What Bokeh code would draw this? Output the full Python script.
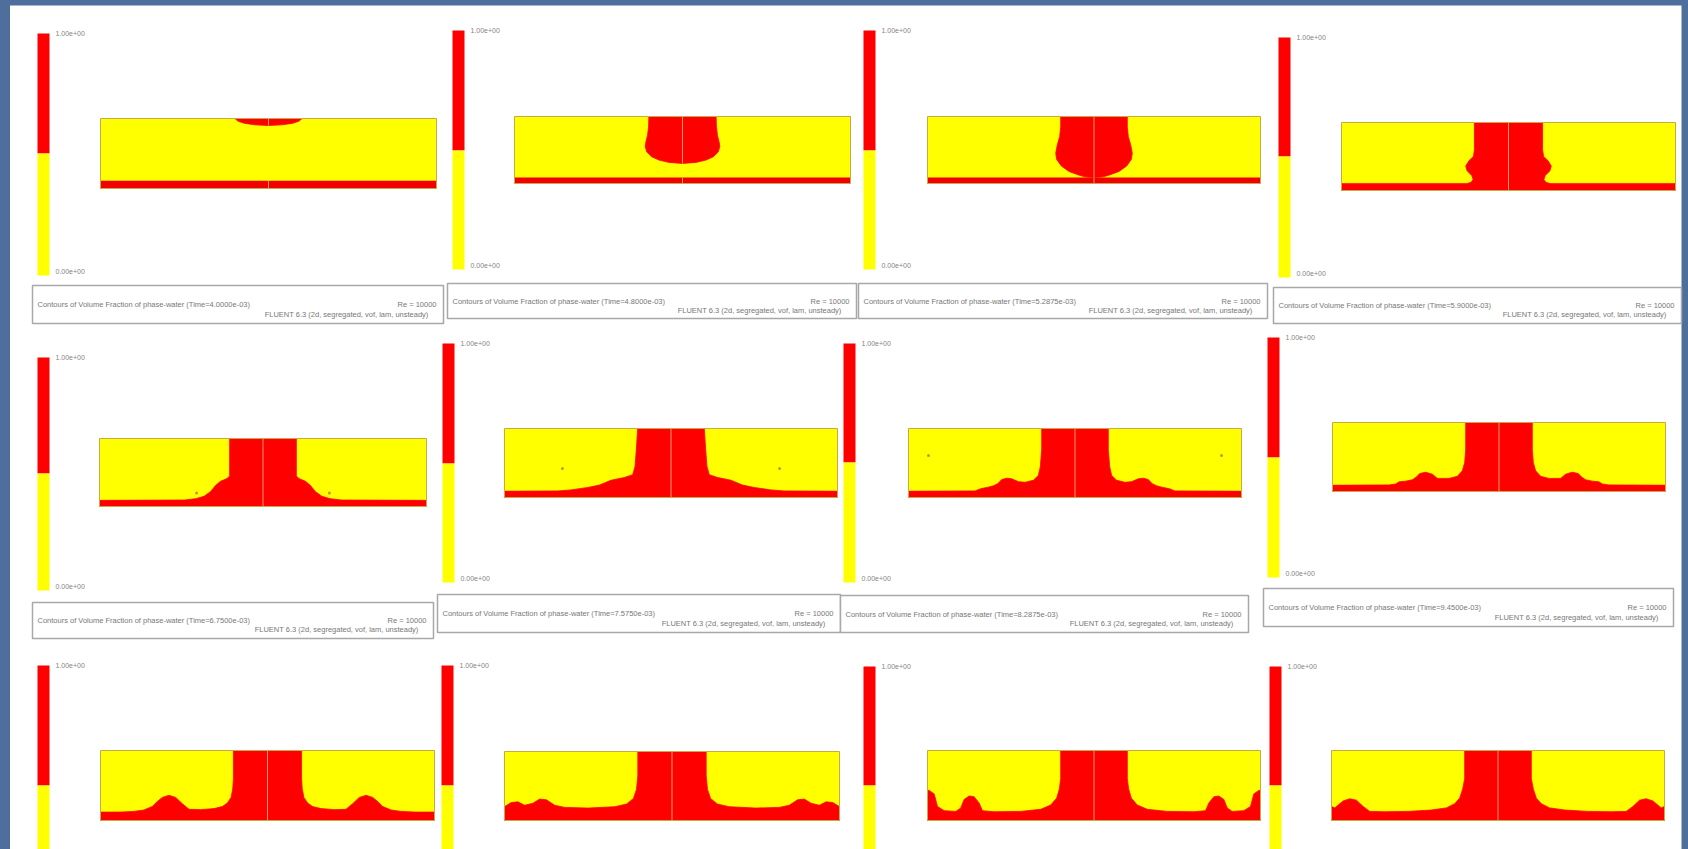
from bokeh.plotting import figure
from bokeh.models import Range1d
from bokeh.core.properties import value
from bokeh.embed import file_html
from bokeh.resources import INLINE

# ---------------------------------------------------------------- data
cbar_max_label = "1.00e+00"
cbar_min_label = "0.00e+00"
caption_title = "Contours of Volume Fraction of phase-water"
caption_right = "Re = 10000"
caption_solver = "FLUENT 6.3 (2d, segregated, vof, lam, unsteady)"
flow_times = ["4.0000e-03", "4.8000e-03", "5.2875e-03", "5.9000e-03",
              "6.7500e-03", "7.5750e-03", "8.2875e-03", "9.4500e-03"]

# thickness of the water film on the floor (fraction of domain height)
film_v = [0.11, 0.09, 0.09, 0.10, 0.09, 0.09, 0.09, 0.09, 0.11, 0.11, 0.11, 0.11]

# water/air interface, right half (distance from symmetry axis / domain width,
# height / domain height); mirrored about the axis
p1_du = [0, 0.10, 0.09, 0.07, 0.04, 0]
p1_v = [1, 1, 0.96, 0.93, 0.91, 0.90]
p2_du = [0, 0.100, 0.101, 0.104, 0.109, 0.111, 0.106, 0.092, 0.070, 0.040, 0]
p2_v = [1, 1, 0.85, 0.72, 0.62, 0.55, 0.47, 0.40, 0.35, 0.315, 0.30]
p3_du = [0, 0.100, 0.100, 0.103, 0.110, 0.115, 0.112, 0.098, 0.075, 0.048, 0.028, 0]
p3_v = [1, 1, 0.85, 0.70, 0.58, 0.45, 0.36, 0.26, 0.18, 0.13, 0.10, 0.09]
p4_du = [0, 0.102, 0.102, 0.105, 0.118, 0.128, 0.124, 0.110, 0.106, 0.112, 0.125, 0.5]
p4_v = [1, 1, 0.60, 0.50, 0.44, 0.36, 0.29, 0.22, 0.16, 0.12, 0.10, 0.10]
p5_du = [0, 0.102, 0.102, 0.110, 0.130, 0.145, 0.160, 0.180, 0.205, 0.240, 0.5]
p5_v = [1, 1, 0.45, 0.41, 0.37, 0.31, 0.22, 0.15, 0.115, 0.095, 0.09]
p6_du = [0, 0.100, 0.104, 0.108, 0.115, 0.140, 0.180, 0.200, 0.215, 0.250, 0.300, 0.340, 0.5]
p6_v = [1, 1, 0.70, 0.45, 0.33, 0.29, 0.25, 0.21, 0.18, 0.145, 0.11, 0.095, 0.09]
p7_du = [0, 0.100, 0.100, 0.104, 0.110, 0.125, 0.150, 0.170, 0.190, 0.205, 0.220,
         0.232, 0.245, 0.260, 0.270, 0.285, 0.300, 0.5]
p7_v = [1, 1, 0.70, 0.45, 0.32, 0.25, 0.22, 0.23, 0.27, 0.28, 0.26,
        0.20, 0.17, 0.15, 0.14, 0.125, 0.095, 0.09]
p8_du = [0, 0.100, 0.100, 0.103, 0.110, 0.125, 0.150, 0.185, 0.200, 0.220, 0.238,
         0.248, 0.260, 0.280, 0.300, 0.310, 0.330, 0.5]
p8_v = [1, 1, 0.60, 0.42, 0.30, 0.22, 0.19, 0.19, 0.25, 0.28, 0.26,
        0.21, 0.17, 0.15, 0.14, 0.11, 0.095, 0.09]
p9_du = [0, 0.102, 0.102, 0.104, 0.109, 0.120, 0.135, 0.160, 0.200, 0.235, 0.255,
         0.275, 0.295, 0.315, 0.330, 0.345, 0.370, 0.400, 0.440, 0.5]
p9_v = [1, 1, 0.60, 0.45, 0.33, 0.25, 0.20, 0.17, 0.155, 0.16, 0.24,
        0.33, 0.36, 0.33, 0.27, 0.20, 0.15, 0.13, 0.12, 0.12]
p10_du = [0, 0.102, 0.102, 0.106, 0.115, 0.135, 0.170, 0.250, 0.320, 0.350, 0.375,
          0.395, 0.415, 0.440, 0.460, 0.480, 0.5]
p10_v = [1, 1, 0.65, 0.45, 0.32, 0.24, 0.20, 0.18, 0.19, 0.22, 0.30,
         0.31, 0.25, 0.22, 0.27, 0.26, 0.20]
p11_du = [0, 0.100, 0.100, 0.104, 0.112, 0.130, 0.160, 0.220, 0.300, 0.335, 0.345,
          0.360, 0.375, 0.390, 0.400, 0.415, 0.450, 0.470, 0.480, 0.495, 0.5]
p11_v = [1, 1, 0.60, 0.45, 0.32, 0.22, 0.16, 0.13, 0.125, 0.14, 0.25,
         0.34, 0.35, 0.30, 0.18, 0.13, 0.14, 0.20, 0.38, 0.43, 0.43]
p12_du = [0, 0.100, 0.100, 0.106, 0.115, 0.130, 0.155, 0.200, 0.270, 0.340, 0.385,
          0.405, 0.425, 0.445, 0.465, 0.480, 0.490, 0.5]
p12_v = [1, 1, 0.60, 0.45, 0.32, 0.24, 0.18, 0.15, 0.13, 0.125, 0.13,
         0.20, 0.29, 0.31, 0.28, 0.22, 0.18, 0.20]

# small detached droplets (panel index, distance from axis, height)
drop_panel = [4, 5, 6]
drop_du = [0.203, 0.326, 0.44]
drop_v = [0.20, 0.42, 0.61]

# ---------------------------------------------------------------- layout (slide pixels)
PAGE_W, PAGE_H = 1688, 849
slide_left, slide_right, slide_top = 9.5, 1681, 5
dom_x0 = [100, 514, 927, 1341, 99, 504, 908, 1332, 100, 504, 927, 1331]
dom_x1 = [436, 850, 1260, 1675, 426, 837, 1241, 1665, 434, 839, 1260, 1664]
dom_top = [118, 116, 116, 122, 438, 428, 428, 422, 750, 751, 750, 750]
dom_bot = [188, 183, 183, 190, 506, 497, 497, 491, 820, 820, 820, 820]
cb_x0 = [37, 452, 863, 1278, 37, 442, 843, 1267, 37, 441, 863, 1269]
cb_w = 12
cb_top = [33, 30, 30, 37, 357, 343, 343, 337, 665, 665, 666, 666]
cb_mid = [153, 150, 150, 156, 473, 463, 462, 457, 785, 785, 785, 785]
cb_bot = [275, 269, 269, 277, 590, 582, 582, 577, 905, 905, 905, 905]
cap_x0 = [32, 447, 858, 1273, 32, 437, 840, 1263]
cap_x1 = [443, 856, 1267, 1681, 433, 840, 1248, 1673]
cap_y0 = [285, 283, 283, 287, 602, 594, 595, 588]
cap_y1 = [323, 318, 318, 323, 638, 632, 632, 626]

RED = "#ff0000"
YEL = "#ffff00"
BLUE = "#4e6f9b"
FONT = value("Liberation Sans")

profiles = [(p1_du, p1_v), (p2_du, p2_v), (p3_du, p3_v), (p4_du, p4_v),
            (p5_du, p5_v), (p6_du, p6_v), (p7_du, p7_v), (p8_du, p8_v),
            (p9_du, p9_v), (p10_du, p10_v), (p11_du, p11_v), (p12_du, p12_v)]

p = figure(width=PAGE_W, height=PAGE_H, x_range=Range1d(0, PAGE_W), y_range=Range1d(PAGE_H, 0),
           x_axis_type=None, y_axis_type=None, output_backend="svg",
           toolbar_location=None, min_border=0)
p.grid.visible = False
p.outline_line_color = None
p.background_fill_color = BLUE
p.border_fill_color = BLUE

# white slide area
p.quad(left=[slide_left], right=[slide_right], top=[slide_top], bottom=[PAGE_H + 10],
       fill_color="white", line_color=None)

# caption boxes
p.quad(left=cap_x0, right=cap_x1, top=cap_y0, bottom=cap_y1,
       fill_color="white", line_color="#a8a8a8", line_width=1.5)

# colour bars
p.quad(left=cb_x0, right=[x + cb_w for x in cb_x0], top=cb_top, bottom=cb_mid,
       fill_color=RED, line_color=None)
p.quad(left=cb_x0, right=[x + cb_w for x in cb_x0], top=cb_mid, bottom=cb_bot,
       fill_color=YEL, line_color=None)

lab_x, lab_y, lab_t = [], [], []
for x, t, b in zip(cb_x0, cb_top, cb_bot):
    lab_x.append(x + cb_w + 6); lab_y.append(t); lab_t.append(cbar_max_label)
    if b < PAGE_H:
        lab_x.append(x + cb_w + 6); lab_y.append(b - 4); lab_t.append(cbar_min_label)
p.text(x=lab_x, y=lab_y, text=lab_t, text_font=FONT, text_font_size="7px",
       text_color="#858585", text_baseline="middle", text_align="left")

# domains (air)
p.quad(left=dom_x0, right=dom_x1, top=dom_top, bottom=dom_bot,
       fill_color=YEL, line_color=None)

# water film on the floor
film_top = [b - f * (b - t) for b, t, f in zip(dom_bot, dom_top, film_v)]
p.quad(left=dom_x0, right=dom_x1, top=film_top, bottom=dom_bot,
       fill_color="#f20000", line_color=None)

# water column / drops
xs, ys, cl_x, cl_y0, cl_y1 = [], [], [], [], []
for i, (du, vv) in enumerate(profiles):
    x0, x1, yt, yb = dom_x0[i], dom_x1[i], dom_top[i], dom_bot[i]
    W, H, xc = x1 - x0, yb - yt, (x0 + x1) / 2
    du, vv = list(du), list(vv)
    attached = du[-1] >= 0.5
    if attached:
        du.append(0.5)
        vv.append(0.0)
    fx = du + [-d for d in reversed(du)]
    fy = vv + vv[::-1]
    xs.append([xc + d * W for d in fx])
    ys.append([yb - t * H for t in fy])
    if attached:
        cl_x.append(xc); cl_y0.append(yt); cl_y1.append(yb)
    else:
        cl_x.append(xc); cl_y0.append(yt); cl_y1.append(yb - vv[-1] * H)
        cl_x.append(xc); cl_y0.append(film_top[i]); cl_y1.append(yb)

p.patches(xs=xs, ys=ys, fill_color=RED, line_color=RED, line_width=0.8)

# symmetry axis
p.segment(x0=cl_x, y0=cl_y0, x1=cl_x, y1=cl_y1, line_color="#ff9a70", line_width=1)

# droplets
dx, dy = [], []
for k, d, v in zip(drop_panel, drop_du, drop_v):
    W = dom_x1[k] - dom_x0[k]
    H = dom_bot[k] - dom_top[k]
    xc = (dom_x0[k] + dom_x1[k]) / 2
    for s in (-1, 1):
        dx.append(xc + s * d * W)
        dy.append(dom_bot[k] - v * H)
p.scatter(x=dx, y=dy, size=3, fill_color="#c09a30", line_color=None)

# domain outline
p.quad(left=dom_x0, right=dom_x1, top=dom_top, bottom=dom_bot,
       fill_color=None, line_color="#c8a848", line_width=1)

# caption texts
n = len(flow_times)
t1_x = [x + 5 for x in cap_x0]
t1_y = [a + 0.5 * (b - a) for a, b in zip(cap_y0, cap_y1)]
t1 = [f"{caption_title}  (Time={t})" for t in flow_times]
p.text(x=t1_x, y=t1_y, text=t1, text_font=FONT, text_font_size="7.5px",
       text_color="#787878", text_baseline="middle", text_align="left")
p.text(x=[x - 7 for x in cap_x1], y=t1_y, text=[caption_right] * n, text_font=FONT,
       text_font_size="7.5px", text_color="#787878", text_baseline="middle",
       text_align="right")
t2_y = [a + 0.76 * (b - a) for a, b in zip(cap_y0, cap_y1)]
p.text(x=[x - 15 for x in cap_x1], y=t2_y, text=[caption_solver] * n, text_font=FONT,
       text_font_size="7.5px", text_color="#787878", text_baseline="middle",
       text_align="right")

page_style = """
{% block preamble %}<style>
html, body { background: #4e6f9b; margin: 0; overflow: hidden; }
</style>{% endblock %}
"""
open("out.html", "w").write(file_html(p, INLINE, title="Volume fraction of water", template=page_style))
